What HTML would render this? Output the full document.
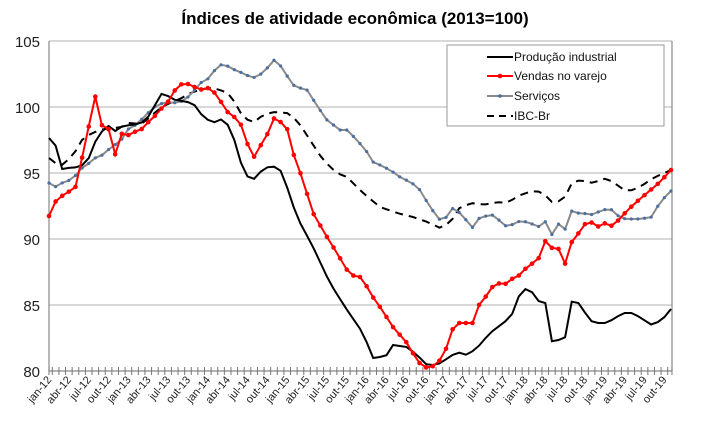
<!DOCTYPE html>
<html><head><meta charset="utf-8"><style>
html,body{margin:0;padding:0;background:#fff;}
svg{display:block;font-family:"Liberation Sans",Arial,sans-serif;}
</style></head><body>
<svg id="s" width="709" height="444" viewBox="0 0 709 444" xmlns="http://www.w3.org/2000/svg">
<text x="355" y="24" text-anchor="middle" font-size="17" font-weight="bold" fill="#000">Índices de atividade econômica (2013=100)</text>
<g stroke="#c0c0c0" stroke-width="1.3">
<line x1="49" y1="41" x2="672" y2="41"/>
<line x1="49" y1="107" x2="672" y2="107"/>
<line x1="49" y1="173" x2="672" y2="173"/>
<line x1="49" y1="239" x2="672" y2="239"/>
<line x1="49" y1="305" x2="672" y2="305"/>
</g>
<line x1="49" y1="41" x2="49" y2="371" stroke="#888" stroke-width="1.2"/>
<line x1="672" y1="41" x2="672" y2="371" stroke="#888" stroke-width="1.2"/>
<line x1="49" y1="371" x2="672" y2="371" stroke="#888" stroke-width="1.2"/>
<g font-size="15" fill="#222" text-anchor="end">
<text x="40" y="47">105</text><text x="40" y="113">100</text><text x="40" y="179">95</text>
<text x="40" y="245">90</text><text x="40" y="311">85</text><text x="40" y="377">80</text>
</g>
<g id="ticks" stroke="#777" stroke-width="1"></g>
<g id="labels" font-size="11" fill="#222"></g>
<g id="series"></g>
<rect x="447" y="45" width="217" height="81" fill="#fff" stroke="#999" stroke-width="1"/>
<g font-size="12" fill="#111">
<line x1="487" y1="57" x2="513" y2="57" stroke="#000" stroke-width="2"/><text x="514" y="61">Produção industrial</text>
<line x1="487" y1="76" x2="513" y2="76" stroke="#f00" stroke-width="2"/><circle cx="500" cy="76" r="2.3" fill="#f00"/><text x="514" y="80">Vendas no varejo</text>
<line x1="487" y1="96" x2="513" y2="96" stroke="#888" stroke-width="2"/><circle cx="500" cy="96" r="1.8" fill="#4a6fa0"/><text x="514" y="100">Serviços</text>
<line x1="487" y1="116" x2="513" y2="116" stroke="#000" stroke-width="2" stroke-dasharray="7,5"/><text x="514" y="120">IBC-Br</text>
</g>
</svg>
<script>
var N=95,x0=49,dx=622/94;
function X(i){return x0+dx*i;}
function interp(k,x){if(x<=k[0][0])return k[0][1];for(var j=1;j<k.length;j++){if(x<=k[j][0]){var a=k[j-1],b=k[j];return a[1]+(b[1]-a[1])*(x-a[0])/(b[0]-a[0]);}}return k[k.length-1][1];}
var black=[[49,138],[56,146],[62,169],[68,168],[80,167],[88,160],[96,140],[103,130],[110,125],[116,132],[120,127],[130,125],[140,124],[150,115],[155,105],[162,93],[170,97],[175,100],[182,101],[193,103],[200,113],[205,118],[213,123],[220,119],[226,122],[232,132],[240,160],[245,175],[250,178],[255,179],[262,170],[270,166],[276,167],[282,172],[297,217],[313,247],[330,283],[347,310],[363,333],[373,358],[380,357],[387,355],[393,345],[407,347],[417,355],[427,365],[437,365],[445,360],[457,352],[467,355],[477,348],[490,333],[507,320],[513,313],[520,293],[527,288],[533,293],[540,303],[547,303],[552,342],[565,338],[573,295],[583,310],[593,323],[607,323],[623,313],[633,313],[652,325],[662,320],[671,309]];
var red=[[49,216],[55,202],[62,196],[68,192],[75,189],[82,158],[88,130],[95,95],[101,125],[108,127],[115,155],[120,133],[127,136],[133,132],[140,131],[146,124],[153,118],[160,110],[167,103],[172,97],[177,85],[184,84],[190,84],[196,88],[203,90],[208,88],[215,93],[220,100],[226,111],[232,115],[240,122],[247,143],[254,157],[262,143],[268,133],[275,116],[288,130],[295,160],[302,177],[308,197],[313,213],[327,237],[337,253],[347,270],[355,277],[362,277],[370,293],[380,307],[393,327],[407,343],[418,362],[427,368],[437,365],[447,347],[452,330],[458,323],[473,323],[479,305],[487,295],[493,286],[500,283],[507,284],[513,278],[520,275],[527,267],[533,263],[540,257],[546,239],[552,248],[559,249],[565,264],[573,238],[580,232],[587,221],[593,223],[599,227],[607,222],[613,227],[620,218],[633,205],[647,193],[660,182],[671,170]];
var grey=[[49,183],[55,187],[62,183],[68,181],[75,176],[82,168],[88,164],[95,158],[101,156],[108,150],[114,145],[120,143],[126,130],[133,127],[140,121],[146,115],[153,108],[160,104],[167,102],[173,103],[180,102],[186,99],[193,92],[200,83],[207,80],[213,72],[220,65],[225,64],[230,68],[240,72],[253,78],[263,73],[275,59],[280,65],[293,85],[300,88],[307,90],[320,110],[327,120],[340,130],[347,130],[357,140],[367,152],[373,162],[380,165],[390,170],[400,177],[412,183],[420,190],[430,207],[440,220],[447,217],[453,208],[460,213],[473,228],[480,217],[493,215],[507,227],[520,221],[527,222],[540,227],[546,221],[553,237],[559,223],[566,230],[573,207],[580,215],[587,213],[593,215],[600,211],[607,209],[613,210],[620,218],[627,219],[640,219],[652,217],[660,202],[671,191]];
var dash=[[49,158],[55,163],[62,165],[68,160],[75,152],[82,140],[90,134],[100,130],[110,128],[120,128],[130,122],[140,125],[150,117],[160,108],[170,103],[180,99],[190,93],[200,90],[207,88],[213,88],[220,90],[230,94],[243,117],[253,123],[263,115],[273,112],[287,113],[297,120],[310,140],[323,160],[337,173],[347,177],[363,193],[380,207],[397,213],[413,217],[430,223],[440,228],[450,223],[460,207],[473,203],[483,205],[497,202],[507,203],[520,195],[533,191],[543,192],[550,202],[563,201],[572,183],[580,180],[593,183],[607,178],[620,187],[627,192],[640,187],[653,178],[671,170]];
var NS="http://www.w3.org/2000/svg";
function el(p,t,a){var e=document.createElementNS(NS,t);for(var k in a)e.setAttribute(k,a[k]);p.appendChild(e);return e;}
var g=document.getElementById('series'),tk=document.getElementById('ticks'),lb=document.getElementById('labels');
for(var i=0;i<=N;i++){var tx=x0+dx*(i-0.5);if(tx<49)tx=49;if(tx>672)tx=672;el(tk,'line',{x1:tx,y1:367,x2:tx,y2:375});}
var mn=['jan','abr','jul','out'];
for(var i=0;i<N;i+=3){var yr=12+Math.floor(i/12);var m=mn[(i%12)/3];var t=el(lb,'text',{x:X(i)+3,y:380,'text-anchor':'end',transform:'rotate(-50 '+(X(i)+3)+' 380)'});t.textContent=m+'-'+yr;}
function pts(k){var s=[];for(var i=0;i<N;i++)s.push(X(i).toFixed(1)+','+interp(k,X(i)).toFixed(1));return s.join(' ');}
el(g,'polyline',{points:pts(dash),fill:'none',stroke:'#000','stroke-width':2,'stroke-dasharray':'8,6'});
el(g,'polyline',{points:pts(grey),fill:'none',stroke:'#8a8a8a','stroke-width':2});
for(var i=0;i<N;i++)el(g,'circle',{cx:X(i),cy:interp(grey,X(i)),r:1.6,fill:'#4a6fa0'});
el(g,'polyline',{points:pts(black),fill:'none',stroke:'#000','stroke-width':2});
el(g,'polyline',{points:pts(red),fill:'none',stroke:'#f00','stroke-width':2});
for(var i=0;i<N;i++)el(g,'circle',{cx:X(i),cy:interp(red,X(i)),r:2.3,fill:'#f00'});
</script>
</body></html>
